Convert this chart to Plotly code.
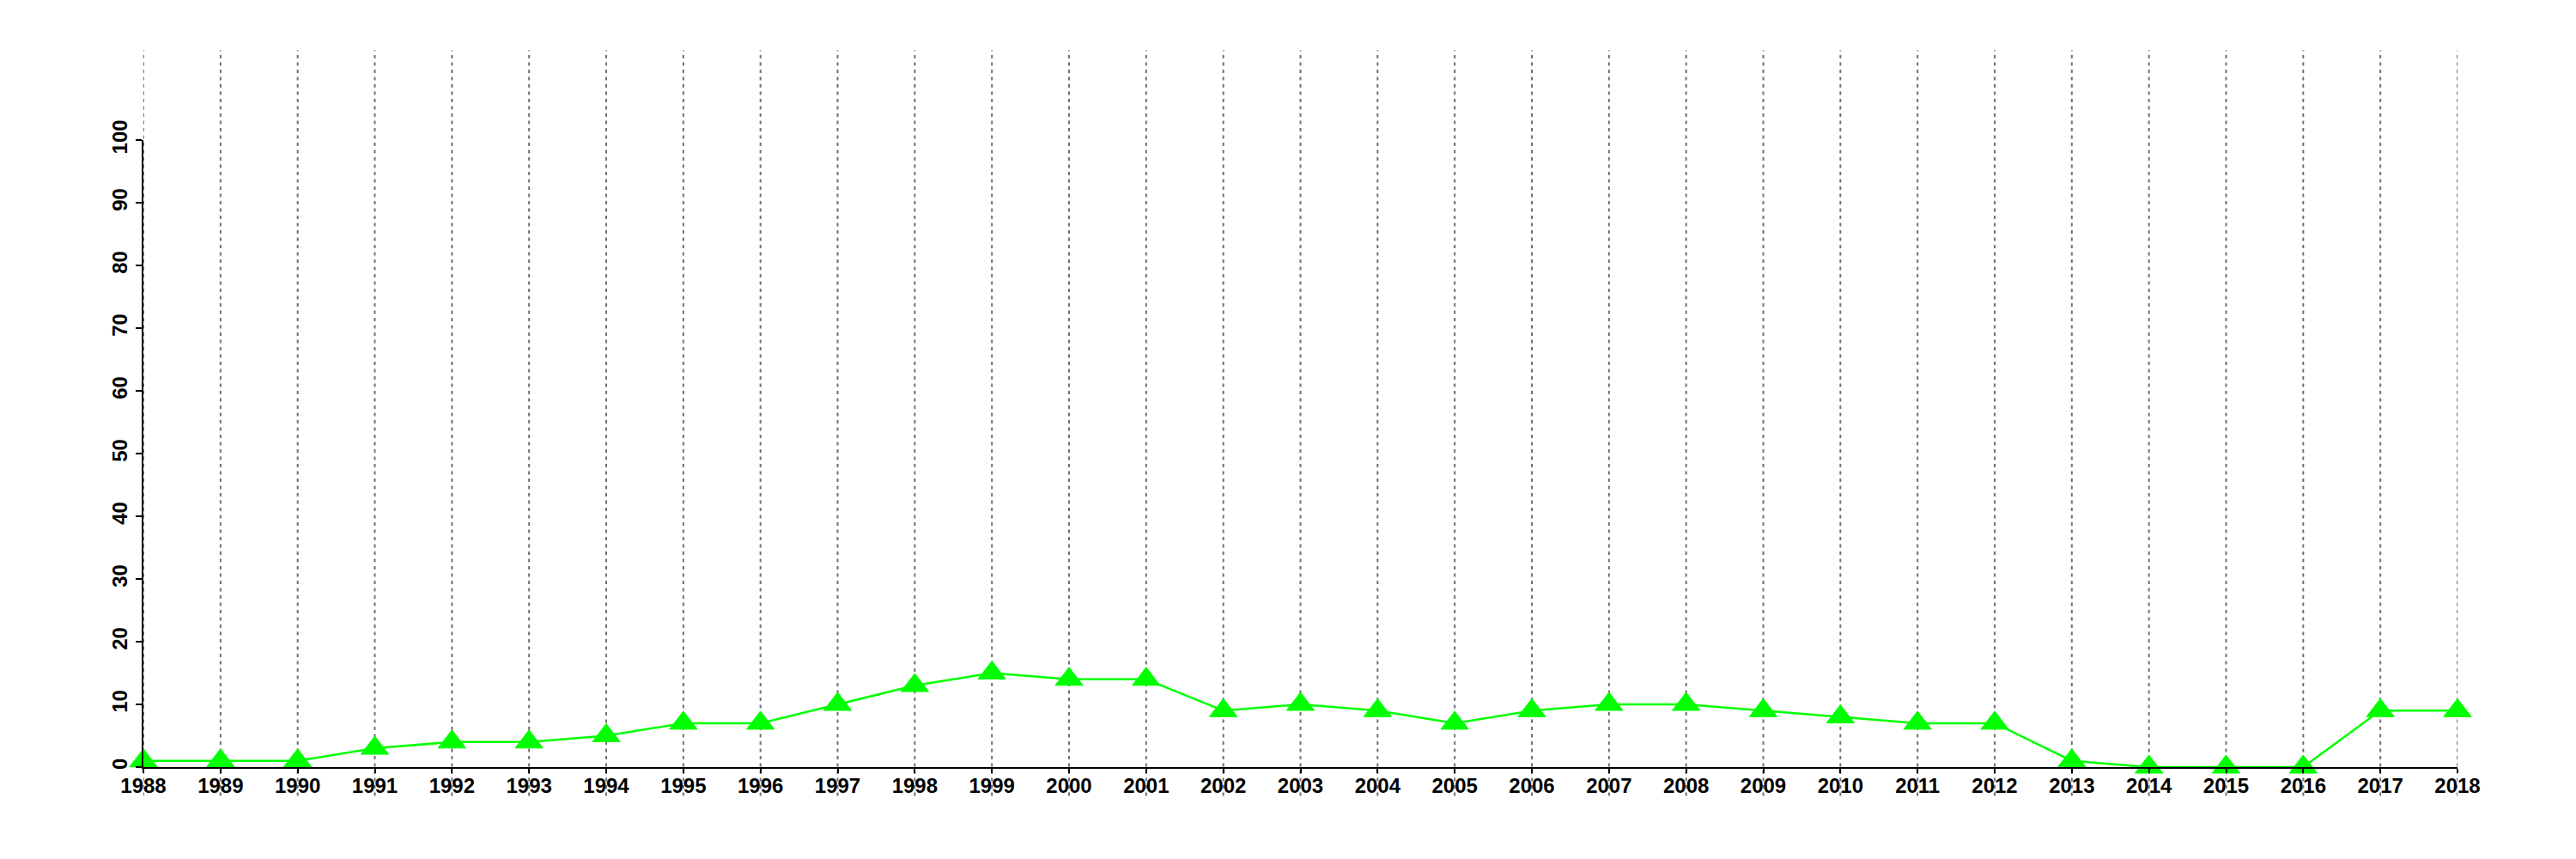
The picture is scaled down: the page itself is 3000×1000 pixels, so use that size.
import plotly.graph_objects as go

years = list(range(1988, 2019))
values = [1, 1, 1, 3, 4, 4, 5, 7, 7, 10, 13, 15, 14, 14, 9, 10, 9, 7, 9, 10, 10, 9, 8, 7, 7, 1, 0, 0, 0, 9, 9]
y_ticks = list(range(0, 101, 10))

W, H = 3000, 1000
OFF = 8  # page body offset
L, R, T, B = 166.7 - OFF, 138.3 + OFF, 163.3 - OFF, 106.7 + OFF

fig = go.Figure()
fig.add_trace(go.Scatter(
    x=years, y=values, mode="lines+markers",
    line=dict(color="#00ff00", width=2.5),
    marker=dict(symbol="triangle-up", size=28, color="#00ff00",
                line=dict(color="#00ff00", width=1)),
    cliponaxis=False, showlegend=False,
))

for yr in years:
    fig.add_shape(type="line", xref="x", yref="paper", x0=yr, x1=yr, y0=-0.046, y1=1.143,
                  line=dict(color="#707070", width=2, dash="4px,4.5px"), layer="below")

font = dict(family="Liberation Sans, Arial, sans-serif", size=24, color="black", weight="bold")
fig.update_layout(
    width=W, height=H,
    margin=dict(l=L, r=R, t=T, b=B, pad=0),
    plot_bgcolor="white", paper_bgcolor="white",
    xaxis=dict(range=[1988, 2018], tickvals=years, ticktext=[str(y) for y in years],
               showgrid=False, zeroline=False, showline=True, linecolor="black", linewidth=2,
               ticks="outside", ticklen=5, tickwidth=2, tickcolor="black", tickfont=font,
               tickangle=0, ticklabelstandoff=-6),
    yaxis=dict(range=[0, 100], tickvals=y_ticks, showgrid=False, zeroline=False,
               showline=True, linecolor="black", linewidth=2, ticks="outside", ticklen=7,
               tickwidth=2, tickcolor="black", tickfont=font, tickangle=-90),
)
fig.write_html("out.html")
